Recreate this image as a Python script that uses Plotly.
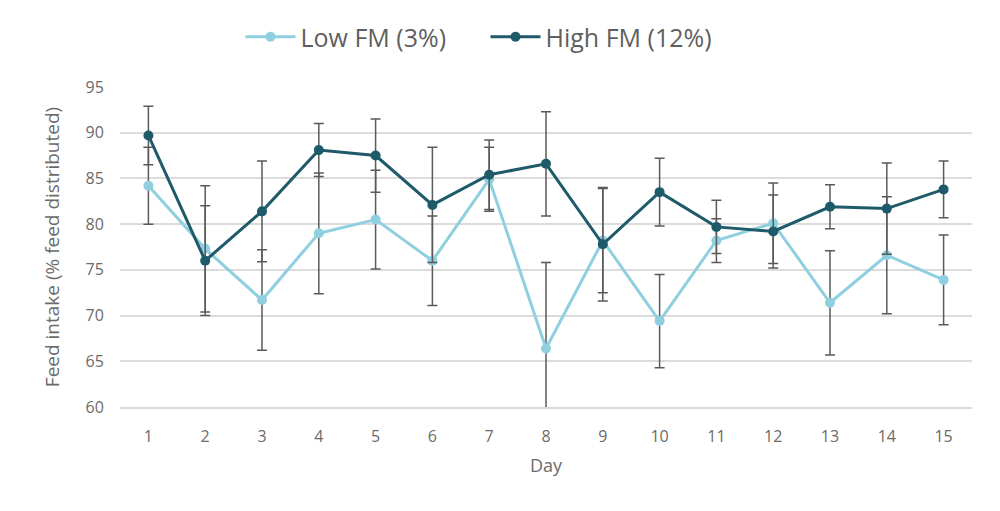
import plotly.graph_objects as go

days = list(range(1, 16))
low_fm = [84.2, 77.3, 71.7, 79.0, 80.5, 76.0, 84.9, 66.4, 78.2, 69.4, 78.2, 80.1, 71.4, 76.6, 73.9]
low_err = [4.2, 6.9, 5.5, 6.6, 5.4, 4.9, 3.5, 9.4, 5.7, 5.1, 2.4, 4.4, 5.7, 6.4, 4.9]
high_fm = [89.7, 76.0, 81.4, 88.1, 87.5, 82.1, 85.4, 86.6, 77.8, 83.5, 79.7, 79.2, 81.9, 81.7, 83.8]
high_err = [3.2, 6.0, 5.5, 2.9, 4.0, 6.3, 3.8, 5.7, 6.2, 3.7, 2.9, 4.0, 2.4, 5.0, 3.1]
y_ticks = [60, 65, 70, 75, 80, 85, 90, 95]

LOW_COLOR = "#8fcfe0"
HIGH_COLOR = "#1e5a69"
ERR_COLOR = "#5a5a5a"
TEXT_COLOR = "#6b6b6b"
FONT = "Open Sans"

fig = go.Figure()
fig.add_trace(go.Scatter(
    x=days, y=low_fm, name="Low FM (3%)", mode="lines+markers",
    line=dict(color=LOW_COLOR, width=3),
    marker=dict(color=LOW_COLOR, size=10),
    error_y=dict(type="data", array=low_err, visible=True, color=ERR_COLOR, thickness=1.5, width=5),
))
fig.add_trace(go.Scatter(
    x=days, y=high_fm, name="High FM (12%)", mode="lines+markers",
    line=dict(color=HIGH_COLOR, width=3),
    marker=dict(color=HIGH_COLOR, size=10),
    error_y=dict(type="data", array=high_err, visible=True, color=ERR_COLOR, thickness=1.5, width=5),
))

fig.update_layout(
    width=1000, height=511,
    margin=dict(l=112, r=36, t=79, b=112, autoexpand=False),
    paper_bgcolor="white", plot_bgcolor="white",
    font=dict(family=FONT, color=TEXT_COLOR, size=16),
    legend=dict(orientation="h", x=0.429, xanchor="center", y=1.156, yanchor="middle",
                font=dict(size=25, color="#5f5f5f", family=FONT), itemwidth=50,
                entrywidth=180, traceorder="normal"),
    showlegend=True,
)
fig.update_xaxes(
    range=[0.5, 15.5], tickmode="array", tickvals=days, ticktext=[str(d) for d in days],
    showgrid=False, showline=True, linecolor="#d9d9d9", linewidth=1.5,
    ticks="outside", ticklen=14, tickcolor="rgba(0,0,0,0)", zeroline=False, automargin=False,
    title=dict(text="Day", font=dict(size=18, color=TEXT_COLOR), standoff=13),
    tickfont=dict(size=16, color=TEXT_COLOR),
)
fig.update_yaxes(
    range=[60, 95], tickmode="array", tickvals=y_ticks,
    showgrid=True, gridcolor="#dcdcdc", gridwidth=1.5,
    showline=False, zeroline=False, automargin=False,
    ticks="outside", ticklen=12, tickcolor="rgba(0,0,0,0)",
    title=dict(text="Feed intake (% feed distributed)", font=dict(size=19, color=TEXT_COLOR), standoff=20),
    tickfont=dict(size=16, color=TEXT_COLOR),
)

fig.write_html("out.html")
